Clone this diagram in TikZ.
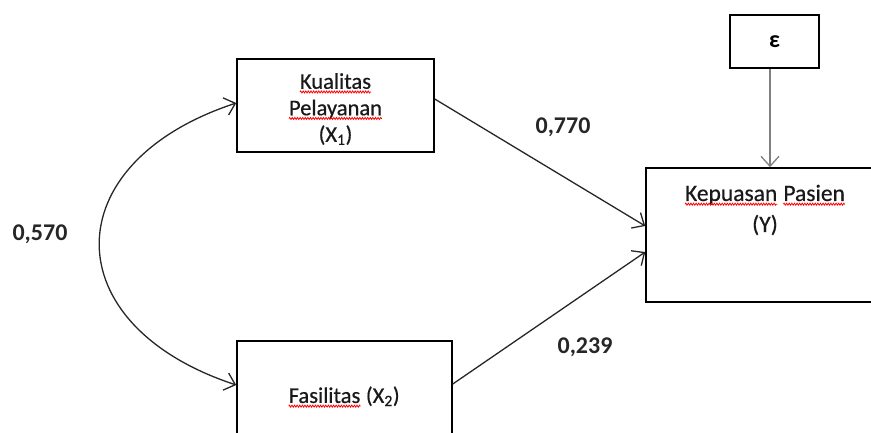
\documentclass[tikz,border=0pt]{standalone}
\usepackage{fontspec}
\setmainfont{Carlito}
\usetikzlibrary{arrows.meta,decorations.pathmorphing}
\newcommand\sqw[1]{\tikz[baseline=(sq.base)]{\node[inner sep=0pt,outer sep=0pt] (sq) {#1};\draw[red,line width=0.8pt,decorate,decoration={zigzag,amplitude=1pt,segment length=2.6pt}] ([yshift=-3.2pt]sq.base west) -- ([yshift=-3.2pt]sq.base east);}}
\begin{document}
\begin{tikzpicture}[x=1pt,y=-1pt,
  box/.style={draw=black,line width=1.5pt,inner sep=0pt,fill=none},
  lbl/.style={font=\fontsize{22.5}{26.5}\selectfont\addfontfeatures{FakeBold=0.5},align=center,inner sep=0pt,text=black!90},
  num/.style={font=\fontsize{24}{28}\selectfont\bfseries,inner sep=0pt,text=black!85},
  arr/.style={draw=black!85,line width=1.3pt,-{Straight Barb[length=10pt,width=18pt,line width=1.3pt]}}]
\useasboundingbox (0,0) rectangle (871,432);
\clip (0,0) rectangle (871,432);
% boxes
\node[box,minimum width=197pt,minimum height=93pt] (x1) at (335.5,105.5) {};
\node[box,minimum width=215pt,minimum height=112pt] (x2) at (344.5,397) {};
\node[box,minimum width=238pt,minimum height=134pt] (y) at (765,235) {};
\node[box,minimum width=89pt,minimum height=53pt] (eps) at (774.5,41.5) {};
% texts
\node[lbl] (t1) at (335.5,109) {\sqw{Kualitas}\\\sqw{Pelayanan}\\(X\textsubscript{1})};
\node[lbl] (t2) at (344,397) {\sqw{Fasilitas} (X\textsubscript{2})};
\node[lbl,font=\fontsize{23.5}{31}\selectfont\addfontfeatures{FakeBold=0.5}] (t3) at (765,210) {\sqw{Kepuasan} \sqw{Pasien}\\(Y)};
\node[num,text=black] (te) at (eps) {ε};
% labels
\node[num] (n1) at (40,234) {0,570};
\node[num] (n2) at (563,127) {0,770};
\node[num] (n3) at (585,347) {0,239};
% connectors
\draw[arr] ([yshift=6.5pt]x1.east) -- ([yshift=9pt]y.west);
\draw[arr] ([yshift=13pt]x2.east) -- ([yshift=-17pt]y.west);
\draw[arr,draw=black!50,line width=2pt] ([xshift=-4.5pt]eps.south) -- ([xshift=-4.5pt]eps.south |- y.north);
\draw[arr,{Straight Barb[length=10pt,width=18pt,line width=1.3pt]}-{Straight Barb[length=10pt,width=18pt,line width=1.3pt]}]
  ([yshift=2.5pt]x1.west) .. controls (54,163) and (54,325) .. ([yshift=12pt]x2.west);
\end{tikzpicture}
\end{document}
